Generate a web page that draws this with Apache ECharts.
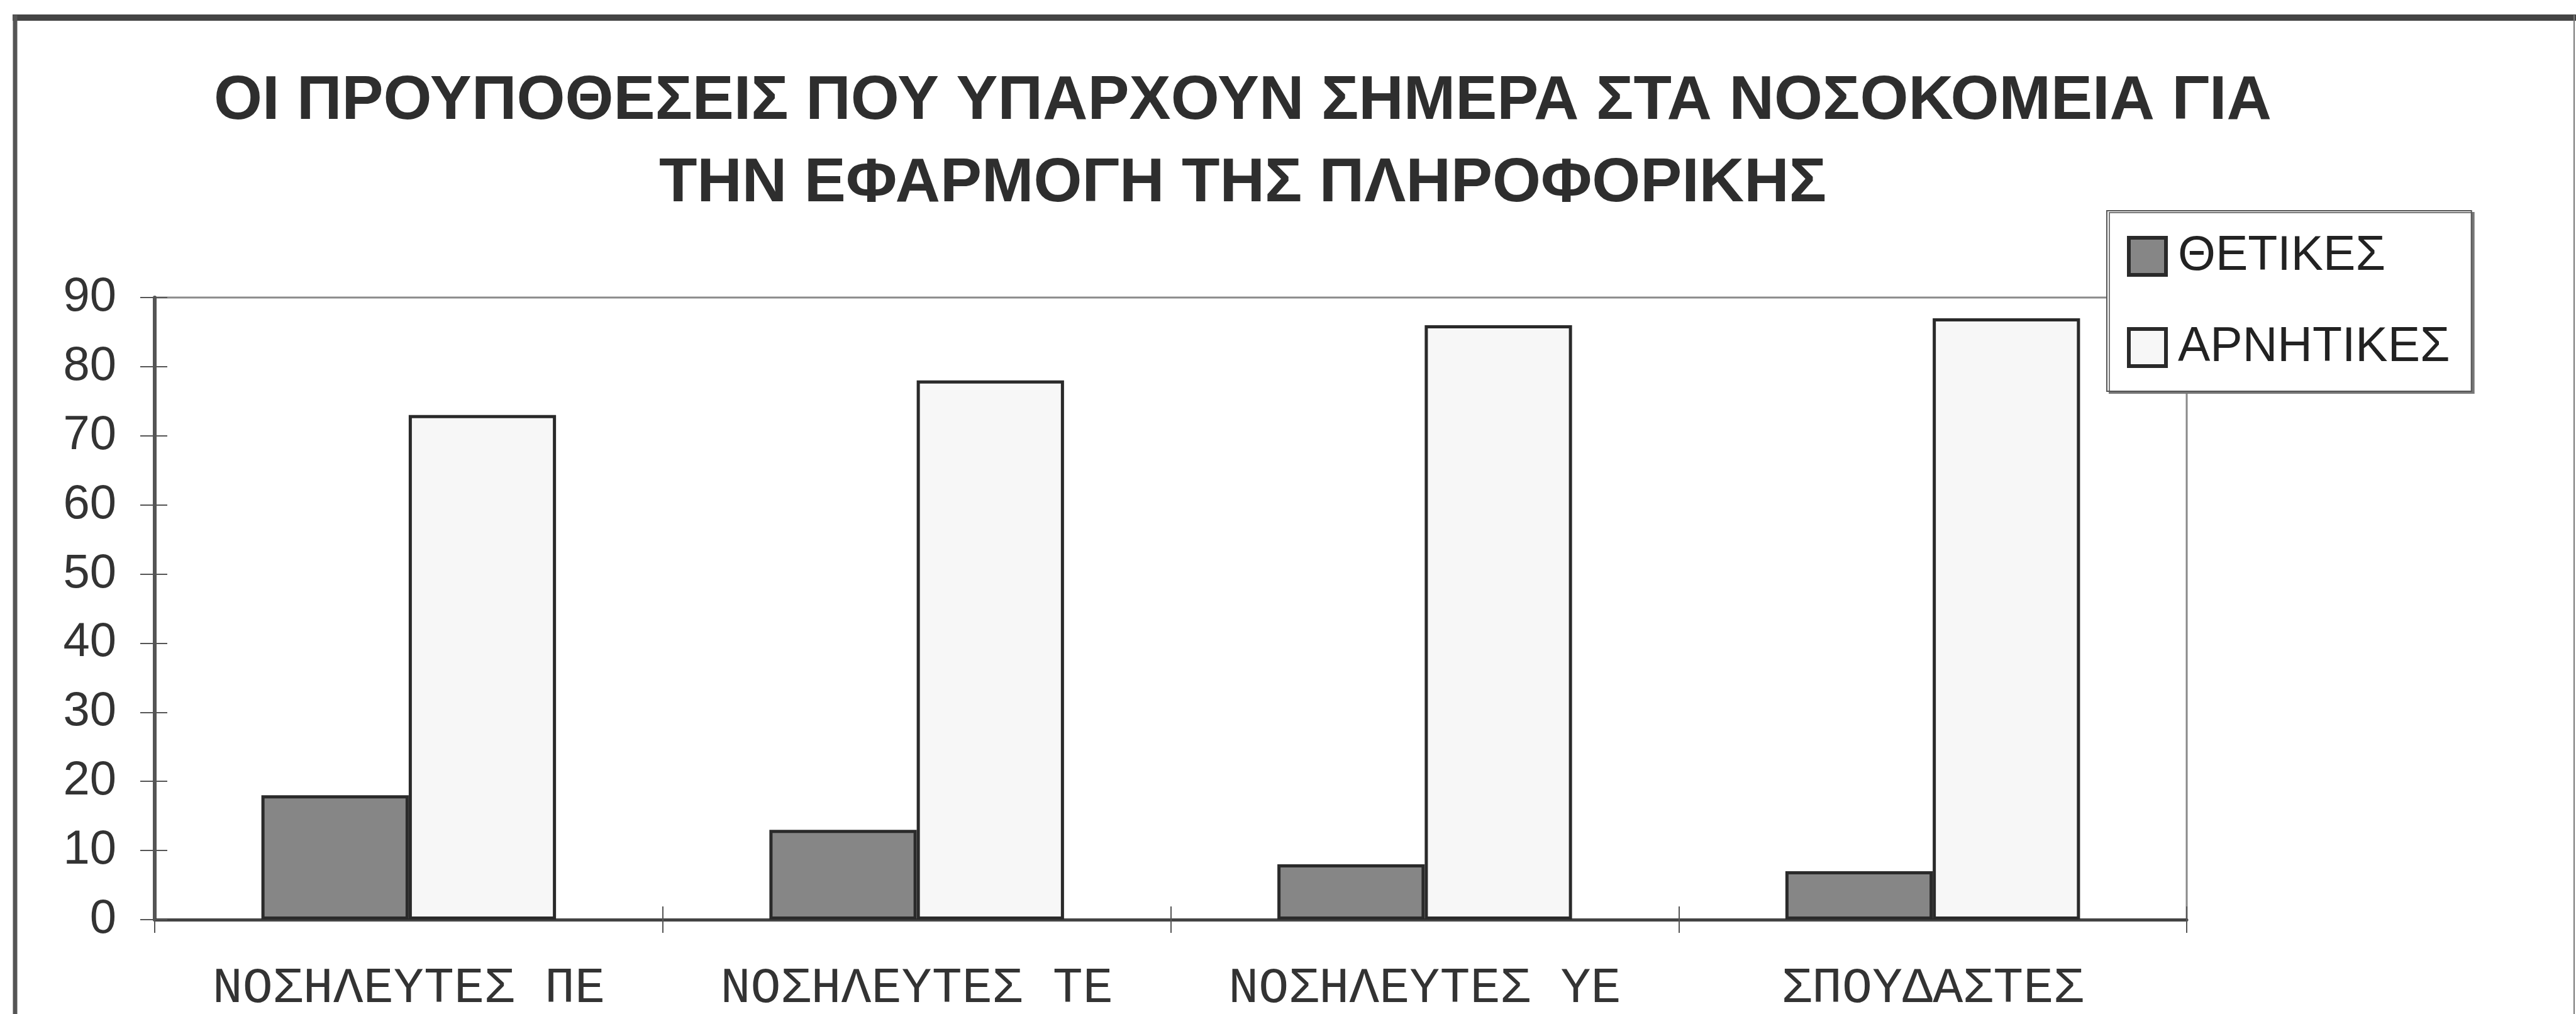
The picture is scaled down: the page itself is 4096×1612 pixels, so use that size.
<!DOCTYPE html>
<html>
<head>
<meta charset="utf-8">
<title>Προϋποθέσεις πληροφορικής στα νοσοκομεία</title>
<script src="https://cdn.jsdelivr.net/npm/echarts@6/dist/echarts.min.js"></script>
<style>
  html, body { margin: 0; padding: 0; background: #fff; }
  #chart { width: 4096px; height: 1612px; }
</style>
</head>
<body>
<div id="chart"></div>
<script>
// data
const titleLines = [
  "ΟΙ ΠΡΟΥΠΟΘΕΣΕΙΣ ΠΟΥ ΥΠΑΡΧΟΥΝ ΣΗΜΕΡΑ ΣΤΑ ΝΟΣΟΚΟΜΕΙΑ ΓΙΑ",
  "ΤΗΝ ΕΦΑΡΜΟΓΗ ΤΗΣ ΠΛΗΡΟΦΟΡΙΚΗΣ"
];
const categories = ["ΝΟΣΗΛΕΥΤΕΣ ΠΕ", "ΝΟΣΗΛΕΥΤΕΣ ΤΕ", "ΝΟΣΗΛΕΥΤΕΣ ΥΕ", "ΣΠΟΥΔΑΣΤΕΣ"];
const seriesNames = ["ΘΕΤΙΚΕΣ", "ΑΡΝΗΤΙΚΕΣ"];
const positiveValues = [18, 13, 8, 7];
const negativeValues = [73, 78, 86, 87];
const yMin = 0, yMax = 90, yStep = 10;

const sansFont = '"Liberation Sans", Arial, "DejaVu Sans", sans-serif';
const monoFont = '"Liberation Mono", "Courier New", "DejaVu Sans Mono", monospace';
const inkColor = "#2a2a2a";

const chart = echarts.init(document.getElementById("chart"), null, { renderer: "canvas" });

const option = {
  backgroundColor: "#ffffff",
  animation: false,
  graphic: [
    // scanned frame: heavy top edge, left and right edges
    { type: "line", shape: { x1: 20, y1: 28, x2: 4096, y2: 28 }, style: { stroke: "#444", lineWidth: 10 } },
    { type: "line", shape: { x1: 24, y1: 24, x2: 24, y2: 1612 }, style: { stroke: "#555", lineWidth: 7 } },
    { type: "line", shape: { x1: 4093, y1: 24, x2: 4093, y2: 1612 }, style: { stroke: "#777", lineWidth: 2 } },
    {
      type: "text",
      x: 1976,
      y: 96,
      style: {
        text: titleLines.join("\n"),
        align: "center",
        verticalAlign: "top",
        font: "bold 99px " + sansFont,
        lineHeight: 131,
        fill: "#2e2e2e"
      }
    }
  ],
  legend: {
    orient: "vertical",
    left: 3350,
    top: 335,
    padding: [34, 34, 31, 32],
    itemGap: 68,
    itemWidth: 59,
    itemHeight: 59,
    icon: "rect",
    backgroundColor: "#ffffff",
    borderColor: "#555",
    borderWidth: 2,
    shadowColor: "#777",
    shadowOffsetX: 4,
    shadowOffsetY: 3,
    itemStyle: { borderWidth: 6, borderColor: inkColor },
    textStyle: {
      fontFamily: sansFont,
      fontSize: 77,
      lineHeight: 59,
      color: "#222",
      padding: [0, 0, 0, 14]
    },
    data: seriesNames
  },
  grid: {
    left: 246,
    top: 473,
    right: 619,
    bottom: 150,
    show: true,
    borderColor: "#8a8a8a",
    borderWidth: 3,
    backgroundColor: "transparent"
  },
  xAxis: [
    {
      type: "category",
      data: categories,
      boundaryGap: true,
      axisLine: { lineStyle: { color: "#444", width: 5 } },
      axisTick: { show: true, length: 21, lineStyle: { color: "#555", width: 2 } },
      axisLabel: {
        interval: 0,
        hideOverlap: false,
        margin: 70,
        fontFamily: monoFont,
        fontSize: 80,
        lineHeight: 80,
        color: "#333"
      },
      splitLine: { show: false }
    },
    {
      // inside half of the crossing ticks
      type: "category",
      data: categories,
      position: "bottom",
      boundaryGap: true,
      axisLine: { show: false },
      axisTick: { show: true, inside: true, interval: 0, length: 21, lineStyle: { color: "#555", width: 2 } },
      axisLabel: { show: false },
      splitLine: { show: false }
    }
  ],
  yAxis: [
    {
      type: "value",
      min: yMin,
      max: yMax,
      interval: yStep,
      position: "left",
      axisLine: { show: true, lineStyle: { color: "#555", width: 6 } },
      axisTick: { show: true, length: 23, lineStyle: { color: "#555", width: 2 } },
      axisLabel: {
        margin: 61,
        fontFamily: sansFont,
        fontSize: 76,
        color: "#333"
      },
      splitLine: { show: false }
    },
    {
      type: "value",
      min: yMin,
      max: yMax,
      interval: yStep,
      position: "left",
      axisLine: { show: false },
      axisTick: { show: true, inside: true, length: 20, lineStyle: { color: "#555", width: 2 } },
      axisLabel: { show: false },
      splitLine: { show: false }
    }
  ],
  series: [
    {
      name: seriesNames[0],
      type: "bar",
      xAxisIndex: 0,
      yAxisIndex: 0,
      barGap: "0%",
      barCategoryGap: "42%",
      itemStyle: { color: "#868686", borderColor: inkColor, borderWidth: 5 },
      data: positiveValues
    },
    {
      name: seriesNames[1],
      type: "bar",
      xAxisIndex: 0,
      yAxisIndex: 0,
      barGap: "0%",
      barCategoryGap: "42%",
      itemStyle: { color: "#f7f7f7", borderColor: inkColor, borderWidth: 5 },
      data: negativeValues
    }
  ]
};

chart.setOption(option);
</script>
</body>
</html>
